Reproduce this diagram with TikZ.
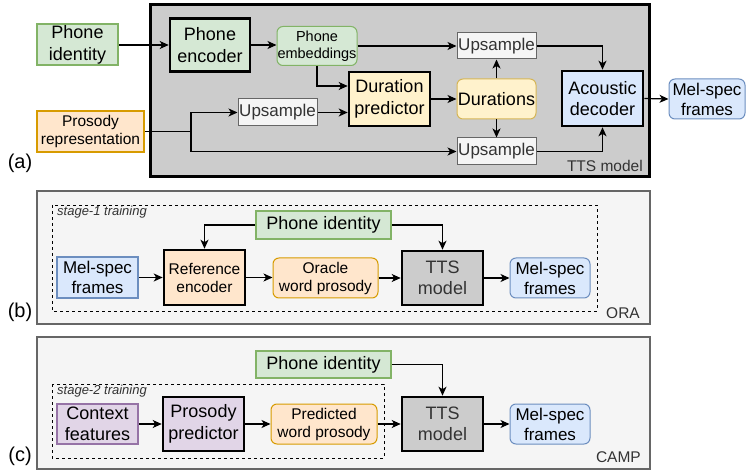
\documentclass[tikz,border=0pt]{standalone}
\usepackage{fontspec}
\setmainfont{Liberation Sans}
\usepackage{xcolor}
\usepackage{tikz}
\usetikzlibrary{arrows.meta,backgrounds}
\definecolor{grfill}{HTML}{D5E8D4}
\definecolor{grline}{HTML}{82B366}
\definecolor{orfill}{HTML}{FFE6CC}
\definecolor{orline}{HTML}{D79B00}
\definecolor{yefill}{HTML}{FFF2CC}
\definecolor{yeline}{HTML}{D6B656}
\definecolor{blfill}{HTML}{DAE8FC}
\definecolor{blline}{HTML}{6C8EBF}
\definecolor{pufill}{HTML}{E1D5E7}
\definecolor{puline}{HTML}{9673A6}
\definecolor{upfill}{HTML}{F5F5F5}
\definecolor{upline}{HTML}{666666}
\definecolor{ttsfill}{HTML}{CCCCCC}
\definecolor{txtgray}{HTML}{333333}
\tikzstyle{big}+=[font=\fontsize{18}{21.5}\selectfont,align=center,inner sep=0pt]
\tikzstyle{mid}+=[font=\fontsize{17}{20}\selectfont,align=center,inner sep=0pt]
\tikzstyle{small}+=[font=\fontsize{15.5}{18}\selectfont,align=center,inner sep=0pt]
\tikzstyle{tiny}+=[font=\fontsize{14.5}{17}\selectfont,align=center,inner sep=0pt]
\tikzstyle{thickbox}+=[draw=black,line width=2.6pt]
\tikzstyle{colbox}+=[line width=2pt]
\tikzstyle{roundbox}+=[line width=1pt,rounded corners=6pt]
\tikzstyle{upbox}+=[mid,draw=upline,fill=upfill,text=txtgray,line width=1pt,minimum width=79pt,minimum height=27pt]
\tikzstyle{panel}+=[draw=upline,fill=upfill,line width=2.4pt]
\tikzstyle{stagebox}+=[draw=black,dashed,line width=0.9pt]
\tikzstyle{tag}+=[font=\fontsize{15.5}{17}\selectfont,text=txtgray,inner sep=0pt]
\tikzstyle{stage}+=[font=\fontsize{13}{15}\selectfont\itshape,text=txtgray,inner sep=0pt,anchor=north west]
\tikzstyle{part}+=[font=\fontsize{20}{22}\selectfont,inner sep=0pt]
\tikzstyle{arr}+=[line width=1.2pt,-{Stealth[length=9pt,width=8pt,inset=2.5pt]}]
\tikzstyle{wire}+=[line width=1.2pt]

\begin{document}
\begin{tikzpicture}[x=1pt,y=-1pt]
    \useasboundingbox (0,0) rectangle (747,470);
    % (a)
    \draw[thickbox,fill=ttsfill,line width=3pt] (150,5) rectangle (649,177);
    \node[tag,anchor=south east] (ttslbl) at (643,172) {TTS model};
    \node[part] (pa) at (20,163) {(a)};
    \node[big,colbox,draw=grline,fill=grfill,minimum width=81pt,minimum height=41pt] (pida) at (77.5,45) {Phone\\identity};
    \node[big,thickbox,fill=grfill,minimum width=80pt,minimum height=53pt] (penc) at (210,45) {Phone\\encoder};
    \node[tiny,roundbox,draw=grline,fill=grfill,minimum width=80pt,minimum height=39pt] (pemb) at (317,46) {Phone\\embeddings};
    \node[big,thickbox,fill=yefill,minimum width=81pt,minimum height=54pt] (dur) at (389.5,99) {Duration\\predictor};
    \node[small,colbox,draw=orline,fill=orfill,minimum width=107pt,minimum height=41pt] (pros) at (90.5,131.5) {Prosody\\representation};
    \node[upbox] (upm) at (277.5,112.5) {Upsample};
    \node[upbox,minimum height=26pt] (upt) at (496.5,46) {Upsample};
    \node[big,roundbox,draw=yeline,fill=yefill,minimum width=79pt,minimum height=40pt] (durs) at (496.5,99) {Durations};
    \node[upbox] (upb) at (496.5,151.5) {Upsample};
    \node[big,thickbox,fill=blfill,minimum width=81pt,minimum height=55pt] (ac) at (602.5,98.5) {Acoustic\\decoder};
    \node[mid,roundbox,draw=blline,fill=blfill,minimum width=76pt,minimum height=40pt] (mela) at (707,99) {Mel-spec\\frames};
    \coordinate (j) at (191,131.5);
    \draw[arr] (pida.east) -- (penc.west);
    \draw[arr] (penc.east) -- (penc.east -| pemb.west);
    \draw[arr] (pemb.east) -- (upt.west);
    \draw[arr] (pemb.south) |- ([yshift=13pt]dur.west);
    \draw[arr] (upm.east) -- (upm.east -| dur.west);
    \draw[wire] (pros.east) -- (j);
    \draw[arr] (j) |- (upm.west);
    \draw[arr] (j) |- (upb.west);
    \draw[arr] (dur.east) -- (durs.west);
    \draw[arr] (durs.north) -- (upt.south);
    \draw[arr] (durs.south) -- (upb.north);
    \draw[arr] (upt.east) -| (ac.north);
    \draw[arr] (upb.east) -| (ac.south);
    \draw[arr] (ac.east) -- (mela.west);
    % (b)
    \draw[panel] (37,191) rectangle (650,324);
    \draw[stagebox] (52,205) rectangle (597,311);
    \node[stage] (st1) at (57,206) {stage-1 training};
    \node[tag,anchor=south east] (ora) at (640,319) {ORA};
    \node[part] (pb) at (20,312) {(b)};
    \node[big,colbox,draw=grline,fill=grfill,minimum width=135pt,minimum height=28pt] (pidb) at (323.5,225) {Phone identity};
    \node[mid,colbox,draw=blline,fill=blfill,minimum width=81pt,minimum height=41pt] (melbi) at (97.5,277.5) {Mel-spec\\frames};
    \node[small,thickbox,fill=orfill,minimum width=81pt,minimum height=55pt] (refenc) at (204.5,277.5) {Reference\\encoder};
    \node[small,roundbox,draw=orline,fill=orfill,minimum width=105pt,minimum height=40pt] (oracle) at (325.5,278) {Oracle\\word prosody};
    \node[big,thickbox,fill=ttsfill,text=txtgray,minimum width=81pt,minimum height=54pt] (ttsb) at (442.5,278) {TTS\\model};
    \node[mid,roundbox,draw=blline,fill=blfill,minimum width=80pt,minimum height=40pt] (melbo) at (550,278) {Mel-spec\\frames};
    \draw[arr] (pidb.west) -| (refenc.north);
    \draw[arr] (pidb.east) -| (ttsb.north);
    \draw[arr] (melbi.east) -- (melbi.east -| refenc.west);
    \draw[arr] (refenc.east) -- (refenc.east -| oracle.west);
    \draw[arr] (oracle.east) -- (ttsb.west);
    \draw[arr] (ttsb.east) -- (melbo.west);
    % (c)
    \draw[panel] (37,337) rectangle (650,469);
    \draw[stagebox] (52,384) rectangle (384,458);
    \node[stage] (st2) at (57,385) {stage-2 training};
    \node[tag,anchor=south east] (camp) at (641,463) {CAMP};
    \node[part] (pc) at (20,456) {(c)};
    \node[big,colbox,draw=grline,fill=grfill,minimum width=135pt,minimum height=27pt] (pidc) at (323.5,364.5) {Phone identity};
    \node[big,colbox,draw=puline,fill=pufill,minimum width=81pt,minimum height=40pt] (ctx) at (97.5,424) {Context\\features};
    \node[big,thickbox,fill=pufill,minimum width=81pt,minimum height=54pt] (ppred) at (203.5,424) {Prosody\\predictor};
    \node[small,roundbox,draw=orline,fill=orfill,minimum width=106pt,minimum height=40pt] (predp) at (324,424) {Predicted\\word prosody};
    \node[big,thickbox,fill=ttsfill,text=txtgray,minimum width=81pt,minimum height=54pt] (ttsc) at (442.5,424) {TTS\\model};
    \node[mid,roundbox,draw=blline,fill=blfill,minimum width=80pt,minimum height=40pt] (melc) at (550,424) {Mel-spec\\frames};
    \draw[arr] (pidc.east) -| (ttsc.north);
    \draw[arr] (ctx.east) -- (ppred.west);
    \draw[arr] (ppred.east) -- (predp.west);
    \draw[arr] (predp.east) -- (ttsc.west);
    \draw[arr] (ttsc.east) -- (melc.west);
\end{tikzpicture}
\end{document}
